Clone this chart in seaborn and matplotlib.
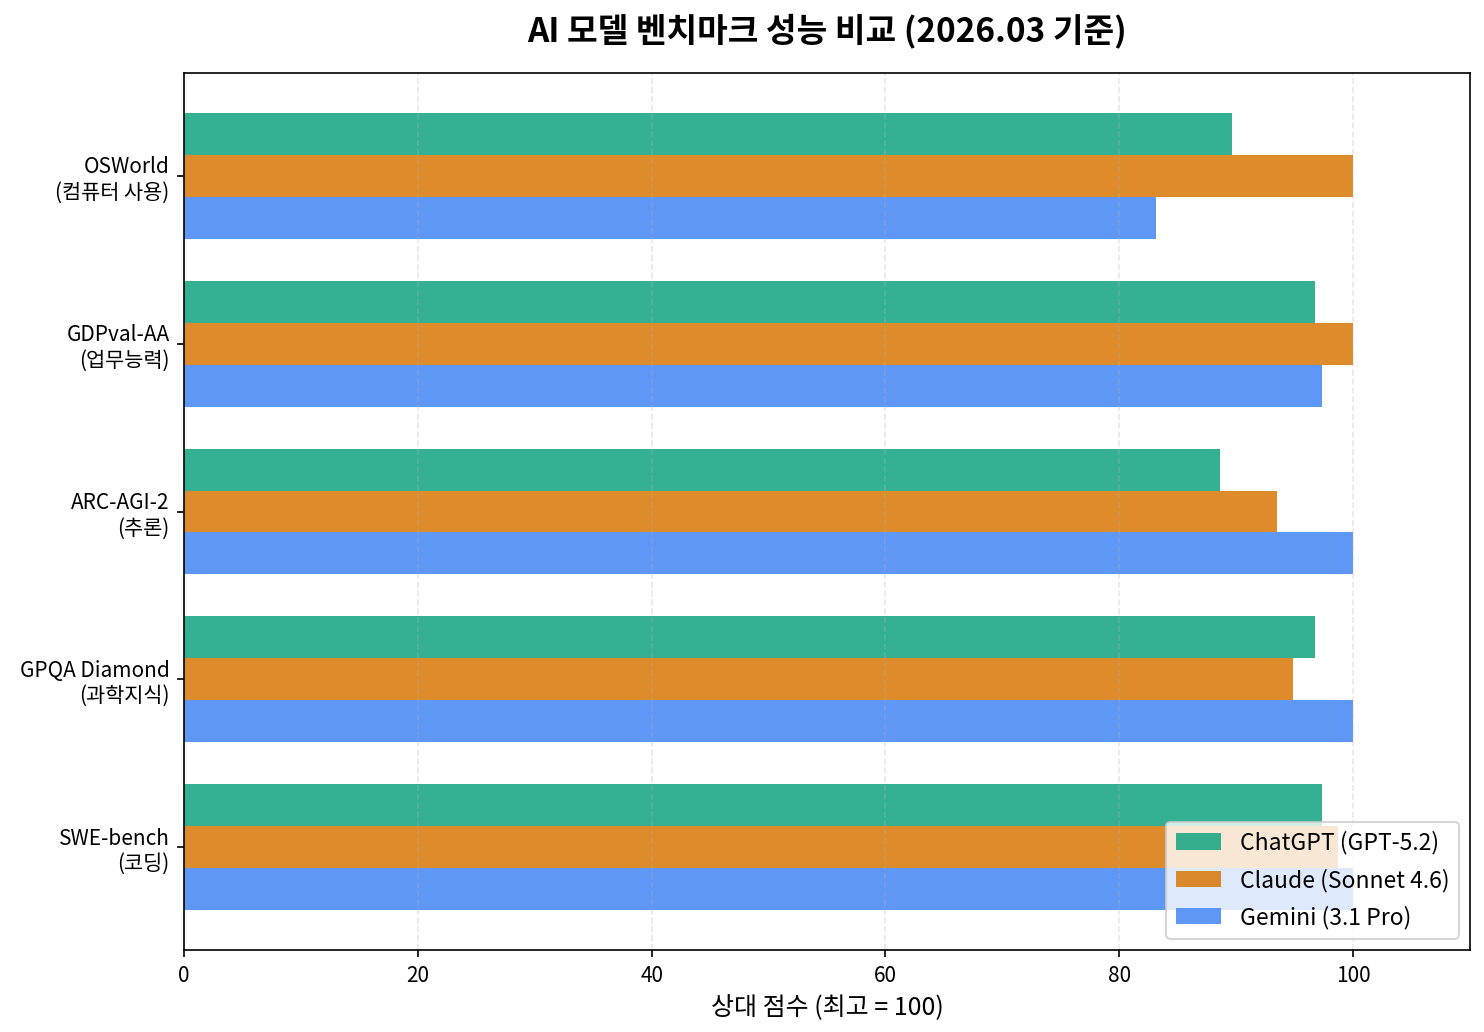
import numpy as np
import pandas as pd
import matplotlib
matplotlib.use("Agg")
import matplotlib.pyplot as plt
import seaborn as sns

plt.rcParams['font.family'] = ['Noto Sans CJK KR', 'DejaVu Sans']

# ── data ─────────────────────────────────────────────
benchmarks = ["OSWorld\n(컴퓨터 사용)", "GDPval-AA\n(업무능력)", "ARC-AGI-2\n(추론)",
              "GPQA Diamond\n(과학지식)", "SWE-bench\n(코딩)"]
models = ["ChatGPT (GPT-5.2)", "Claude (Sonnet 4.6)", "Gemini (3.1 Pro)"]
chatgpt = [89.6, 96.7, 88.6, 96.7, 97.3]
claude  = [100.0, 100.0, 93.5, 94.9, 98.7]
gemini  = [83.1, 97.3, 100.0, 100.0, 100.0]
colors  = ["#10a37f", "#d97706", "#4285f4"]

df = pd.DataFrame({
    "benchmark": benchmarks * 3,
    "model": [models[0]] * 5 + [models[1]] * 5 + [models[2]] * 5,
    "score": chatgpt + claude + gemini,
})

# ── plot ─────────────────────────────────────────────
fig = plt.figure(figsize=(1484 / 150, 1032 / 150), dpi=150)
ax = fig.add_axes([184 / 1484, 1 - 950 / 1032, (1470 - 184) / 1484, (950 - 73) / 1032])

sns.barplot(data=df, y="benchmark", x="score", hue="model", orient="h",
            palette=colors, saturation=1, width=0.75, alpha=0.85,
            linewidth=0, errorbar=None, ax=ax)

ax.set_ylim(4.6125, -0.6125)
ax.set_xlim(0, 110)
ax.set_xticks([0, 20, 40, 60, 80, 100])
ax.grid(axis="x", linestyle="--", alpha=0.3)
ax.set_ylabel("")
ax.set_xlabel("상대 점수 (최고 = 100)", fontsize=12)
ax.set_title("AI 모델 벤치마크 성능 비교 (2026.03 기준)", fontsize=16,
             fontweight="bold", pad=15)
ax.legend(loc="lower right", fontsize=11, title=None, labelspacing=0.6)

fig.savefig("out.png", dpi=150)
